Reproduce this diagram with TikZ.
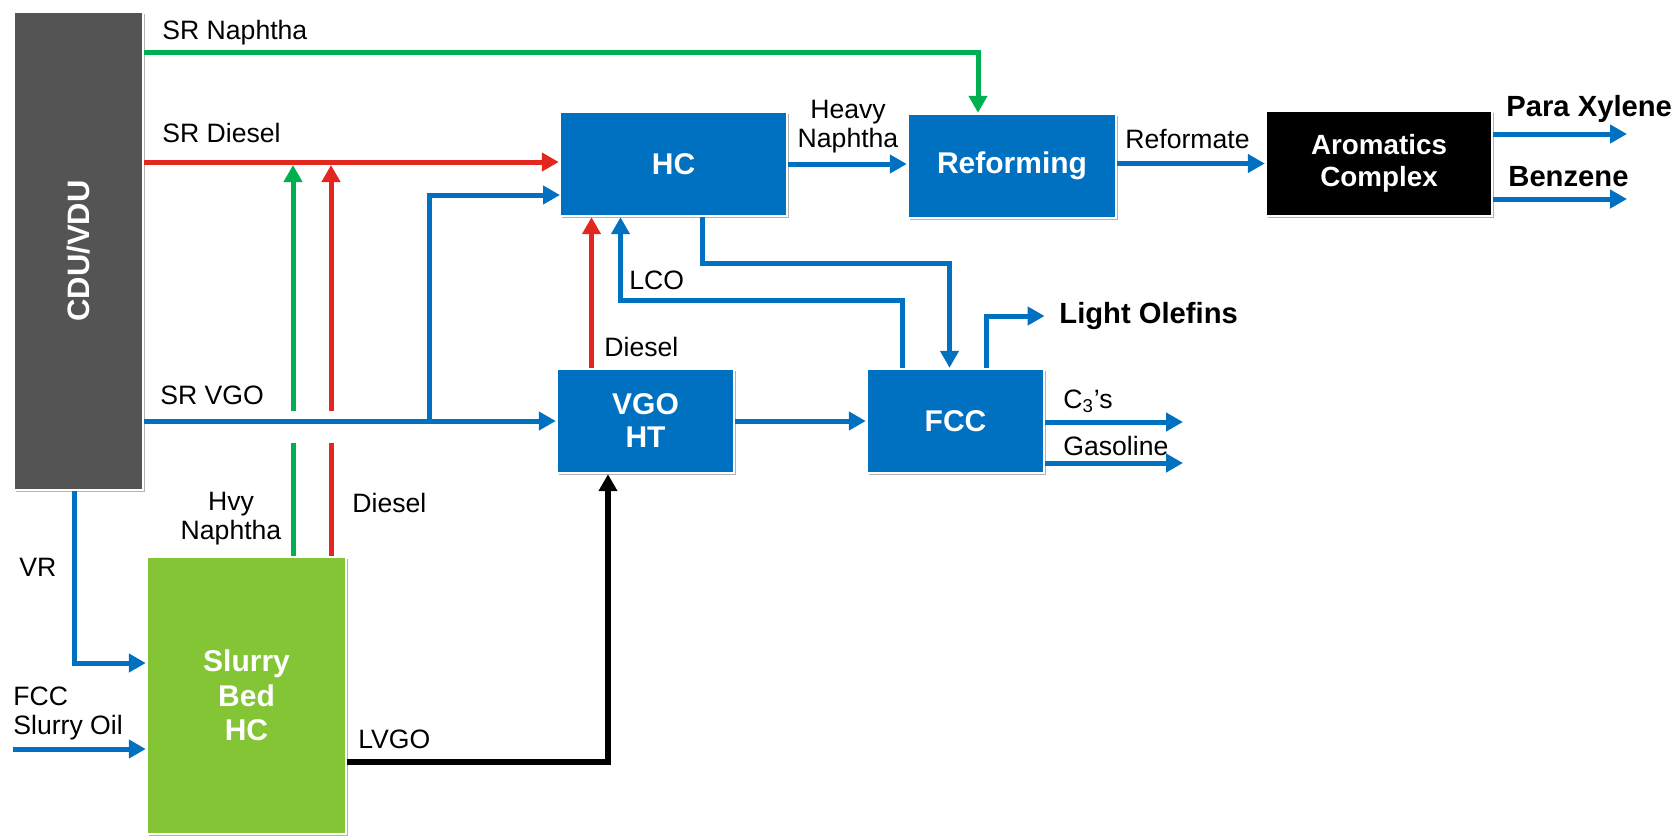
\documentclass[tikz,border=0pt]{standalone}
\usepackage{fontspec}
\setmainfont{Liberation Sans}
\usetikzlibrary{arrows.meta,shadows}
\definecolor{cblue}{RGB}{0,112,192}
\definecolor{cgreen}{RGB}{0,176,80}
\definecolor{cred}{RGB}{227,38,30}
\definecolor{cgray}{RGB}{84,84,84}
\definecolor{cslurry}{RGB}{131,197,53}
\begin{document}
\begin{tikzpicture}[x=0.5pt,y=-0.5pt,
  unit/.style={draw=white, line width=1.2pt, inner sep=0pt, text=white,
    font=\fontsize{15}{17}\selectfont\bfseries, align=center,
    general shadow={fill=black!30, shadow xshift=1pt, shadow yshift=-1pt}},
  lbl/.style={inner sep=0pt, font=\fontsize{13.3}{14.5}\selectfont},
  blbl/.style={inner sep=0pt, font=\fontsize{14.6}{16}\selectfont\bfseries},
  tip/.style={-{Triangle[length=8.5pt,width=9pt]}},
  bline/.style={draw=cblue, line width=2.5pt},
  gline/.style={draw=cgreen, line width=2.5pt},
  rline/.style={draw=cred, line width=2.5pt},
  kline/.style={draw=black, line width=3pt},
]
\useasboundingbox (0,0) rectangle (1680,837);
\clip (0,0) rectangle (1680,837);

% units
\node[unit, fill=cgray, minimum width=64.5pt, minimum height=239pt] (cdu) at (78.5,251) {};
\node[text=white, font=\fontsize{15.5}{17}\selectfont\bfseries, rotate=90, inner sep=0pt] (cdutxt) at (cdu.center) {CDU/VDU};
\node[unit, fill=cblue, minimum width=113.5pt, minimum height=52pt] (hc) at (673.5,164) {HC};
\node[unit, fill=cblue, minimum width=104pt, minimum height=52pt] (ref) at (1012,166) {Reforming};
\node[unit, fill=black, minimum width=113pt, minimum height=52.5pt, font=\fontsize{13.9}{16}\selectfont\bfseries] (aro) at (1379,163.5) {Aromatics\\Complex};
\node[unit, fill=cblue, minimum width=88.5pt, minimum height=52pt, font=\fontsize{15}{16.5}\selectfont\bfseries] (vgo) at (645.5,421) {VGO\\HT};
\node[unit, fill=cblue, minimum width=88.5pt, minimum height=52pt] (fcc) at (955.5,421) {FCC};
\node[unit, fill=cslurry, minimum width=99.5pt, minimum height=138.5pt, font=\fontsize{15}{17.3}\selectfont\bfseries] (slurry) at (246.5,695.5) {Slurry\\Bed\\HC};

% coordinates
\coordinate (sn) at (978,52);
\coordinate (sd) at (0,162);
\coordinate (br) at (429,421);
\coordinate (hcin) at (560,195);
\coordinate (glo) at (293,443);
\coordinate (ghi) at (293,411);
\coordinate (gtip) at (293,165);
\coordinate (rlo) at (331,443);
\coordinate (rhi) at (331,411);
\coordinate (rtip) at (331,165);
\coordinate (vr) at (74,663);
\coordinate (fso) at (13,749);
\coordinate (lvc) at (608,762);
\coordinate (dx) at (591.5,0);
\coordinate (lco1) at (902,300);
\coordinate (lco2) at (620.5,300);
\coordinate (hf1) at (702,263);
\coordinate (hf2) at (949.5,263);
\coordinate (lo1) at (986.6,316);
\coordinate (lo2) at (1044.6,316);
\coordinate (c3) at (1183,422);
\coordinate (gas) at (1183,463);
\coordinate (px) at (1627,134);
\coordinate (bz) at (1627,199);

% green / red risers from slurry (behind SR VGO line)
\draw[gline] (slurry.north -| glo) -- (glo);
\draw[gline, tip] (ghi) -- (gtip);
\draw[rline] (slurry.north -| rlo) -- (rlo);
\draw[rline, tip] (rhi) -- (rtip);

% streams
\draw[gline, tip] (cdu.east |- sn) -- (sn) -- (ref.north -| sn);
\draw[rline, tip] (cdu.east |- sd) -- (hc.west |- sd);
\draw[bline, tip] (cdu.east |- vgo.west) -- (vgo.west);
\draw[bline, tip] (br) |- (hcin);
\draw[bline, tip] (cdu.south -| vr) |- (slurry.west |- vr);
\draw[bline, tip] (fso) -- (slurry.west |- fso);
\draw[kline, tip] (slurry.east |- lvc) -| (vgo.south -| lvc);
\draw[rline, tip] (vgo.north -| dx) -- (hc.south -| dx);
\draw[bline, tip] (fcc.north -| lco1) -- (lco1) -- (lco2) -- (hc.south -| lco2);
\draw[bline, tip] (hc.south -| hf1) -- (hf1) -- (hf2) -- (fcc.north -| hf2);
\draw[bline, tip] (fcc.north -| lo1) -- (lo1) -- (lo2);
\draw[bline, tip] (vgo.east) -- (fcc.west);
\draw[bline, tip] (fcc.east |- c3) -- (c3);
\draw[bline, tip] (fcc.east |- gas) -- (gas);
\draw[bline, tip] (hc.east) -- (hc.east -| ref.west);
\draw[bline, tip] (ref.east |- aro.west) -- (aro.west);
\draw[bline, tip] (aro.east |- px) -- (px);
\draw[bline, tip] (aro.east |- bz) -- (bz);

% labels
\node[lbl, anchor=base west] (lsn) at (162,39) {SR Naphtha};
\node[lbl, anchor=base west] (lsd) at (162,142) {SR Diesel};
\node[lbl, anchor=base west] (lsv) at (160,404) {SR VGO};
\node[lbl, align=center] (lhn) at (848,126.8) {Heavy\\Naphtha};
\node[lbl, anchor=base west] (lrf) at (1125,148) {Reformate};
\node[blbl, anchor=base west] (lpx) at (1506,116) {Para Xylene};
\node[blbl, anchor=base west] (lbz) at (1508,186) {Benzene};
\node[blbl, anchor=base west] (llo) at (1059,323) {Light Olefins};
\node[lbl, anchor=base west] (lc3) at (1063,408) {C\textsubscript{3}’s};
\node[lbl, anchor=base west] (lgs) at (1063,455) {Gasoline};
\node[lbl, anchor=base west] (ldv) at (604,356) {Diesel};
\node[lbl, anchor=base west] (llco) at (629,289) {LCO};
\node[lbl, align=center] (lhv) at (231,518.3) {Hvy\\Naphtha};
\node[lbl, anchor=base west] (lds) at (352,512) {Diesel};
\node[lbl, anchor=base west] (lvr) at (19,576) {VR};
\node[lbl, align=left, anchor=west] (lfso) at (13,713.8) {FCC\\Slurry Oil};
\node[lbl, anchor=base west] (llv) at (358,748) {LVGO};
\end{tikzpicture}
\end{document}
